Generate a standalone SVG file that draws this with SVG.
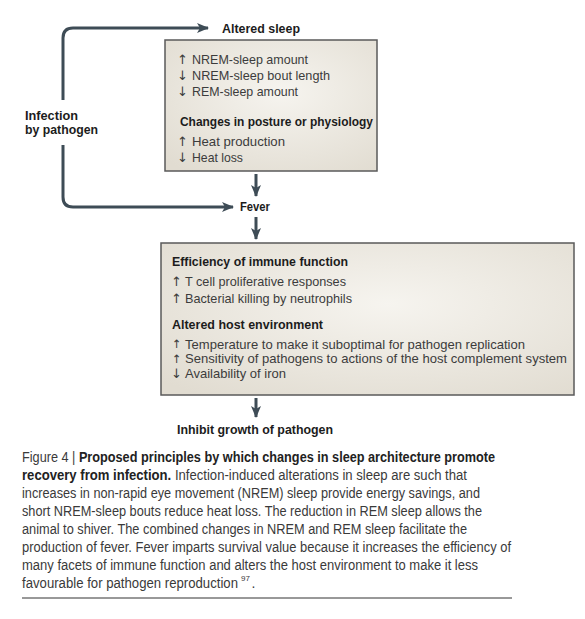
<svg xmlns="http://www.w3.org/2000/svg" width="585" height="619" viewBox="0 0 585 619">
<defs>
<radialGradient id="bg" cx="0.55" cy="0.4" r="0.75">
<stop offset="0" stop-color="#f6f4ef"/>
<stop offset="1" stop-color="#e1dcd1"/>
</radialGradient>
<marker id="ah" markerWidth="12" markerHeight="10" refX="11" refY="5" orient="auto" markerUnits="userSpaceOnUse">
<path d="M0,0 L12,5 L0,10 L3,5 Z" fill="#3e4c56"/>
</marker>
<style>
.box{fill:url(#bg);stroke:#5a5a5a;stroke-width:1.5}
.ln{fill:none;stroke:#3e4c56;stroke-width:3}
text{font-family:"Liberation Sans",Arial,sans-serif}
.t{font-size:13px;fill:#3c3c3c}
.b{font-size:13px;font-weight:bold;fill:#1c1c1c}
.ar{font-family:"DejaVu Sans",sans-serif;font-size:13px;fill:#3c3c3c}
.ars{font-family:"DejaVu Sans",sans-serif;font-size:11.5px;fill:#3c3c3c}
.c{font-size:14px;fill:#3a3a3a}
.cs{font-size:8px;fill:#3a3a3a}
.cb{font-weight:bold;fill:#222}
</style>
</defs>
<rect width="585" height="619" fill="#fff"/>
<g id="connectors">
<path class="ln" d="M63,100 V38 Q63,28 73,28 H208" marker-end="url(#ah)"/>
<path class="ln" d="M63,145 V197 Q63,207 73,207 H233" marker-end="url(#ah)"/>
<path class="ln" d="M256,174 V196" marker-end="url(#ah)"/>
<path class="ln" d="M256,217 V239" marker-end="url(#ah)"/>
<path class="ln" d="M256,398 V417" marker-end="url(#ah)"/>
</g>
<g id="infection">
<text class="b" x="25" y="120" textLength="53" lengthAdjust="spacingAndGlyphs">Infection</text>
<text class="b" x="25" y="134" textLength="73" lengthAdjust="spacingAndGlyphs">by pathogen</text>
</g>
<g id="altered-sleep">
<text class="b" x="222" y="33" textLength="78" lengthAdjust="spacingAndGlyphs">Altered sleep</text>
<rect class="box" x="165" y="40" width="212" height="131"/>
<text class="ar" x="177" y="64">↑</text>
<text class="t" x="192" y="64" textLength="116" lengthAdjust="spacingAndGlyphs">NREM-sleep amount</text>
<text class="ar" x="177" y="80">↓</text>
<text class="t" x="192" y="80" textLength="138" lengthAdjust="spacingAndGlyphs">NREM-sleep bout length</text>
<text class="ar" x="177" y="96">↓</text>
<text class="t" x="192" y="96" textLength="106" lengthAdjust="spacingAndGlyphs">REM-sleep amount</text>
<text class="b" x="180" y="126" textLength="193" lengthAdjust="spacingAndGlyphs">Changes in posture or physiology</text>
<text class="ar" x="177" y="146">↑</text>
<text class="t" x="192" y="146" textLength="93" lengthAdjust="spacingAndGlyphs">Heat production</text>
<text class="ar" x="177" y="162">↓</text>
<text class="t" x="192" y="162" textLength="51" lengthAdjust="spacingAndGlyphs">Heat loss</text>
</g>
<g id="fever">
<text class="b" x="240" y="211" textLength="30" lengthAdjust="spacingAndGlyphs">Fever</text>
</g>
<g id="effects">
<rect class="box" x="161" y="243" width="413" height="152"/>
<text class="b" x="172" y="266" textLength="176" lengthAdjust="spacingAndGlyphs">Efficiency of immune function</text>
<text class="ar" x="171" y="286">↑</text>
<text class="t" x="185" y="286" textLength="161" lengthAdjust="spacingAndGlyphs">T cell proliferative responses</text>
<text class="ar" x="171" y="303">↑</text>
<text class="t" x="185" y="303" textLength="167" lengthAdjust="spacingAndGlyphs">Bacterial killing by neutrophils</text>
<text class="b" x="172" y="329" textLength="151" lengthAdjust="spacingAndGlyphs">Altered host environment</text>
<text class="ars" x="172" y="348">↑</text>
<text class="t" x="185" y="349" textLength="340" lengthAdjust="spacingAndGlyphs">Temperature to make it suboptimal for pathogen replication</text>
<text class="ars" x="172" y="363">↑</text>
<text class="t" x="185" y="363" textLength="382" lengthAdjust="spacingAndGlyphs">Sensitivity of pathogens to actions of the host complement system</text>
<text class="ar" x="171" y="378">↓</text>
<text class="t" x="185" y="378" textLength="101" lengthAdjust="spacingAndGlyphs">Availability of iron</text>
</g>
<g id="inhibit">
<text class="b" x="177" y="434" textLength="156" lengthAdjust="spacingAndGlyphs">Inhibit growth of pathogen</text>
</g>
<g id="caption">
<text class="c" x="22" y="462" textLength="473" lengthAdjust="spacingAndGlyphs">Figure 4 | <tspan class="cb">Proposed principles by which changes in sleep architecture promote</tspan></text>
<text class="c" x="22" y="480" textLength="445" lengthAdjust="spacingAndGlyphs"><tspan class="cb">recovery from infection.</tspan> Infection-induced alterations in sleep are such that</text>
<text class="c" x="22" y="498" textLength="458" lengthAdjust="spacingAndGlyphs">increases in non-rapid eye movement (NREM) sleep provide energy savings, and</text>
<text class="c" x="22" y="516" textLength="460" lengthAdjust="spacingAndGlyphs">short NREM-sleep bouts reduce heat loss. The reduction in REM sleep allows the</text>
<text class="c" x="22" y="534" textLength="445" lengthAdjust="spacingAndGlyphs">animal to shiver. The combined changes in NREM and REM sleep facilitate the</text>
<text class="c" x="22" y="552" textLength="489" lengthAdjust="spacingAndGlyphs">production of fever. Fever imparts survival value because it increases the efficiency of</text>
<text class="c" x="22" y="570" textLength="456" lengthAdjust="spacingAndGlyphs">many facets of immune function and alters the host environment to make it less</text>
<text class="c" x="22" y="588" textLength="216" lengthAdjust="spacingAndGlyphs">favourable for pathogen reproduction</text>
<text class="cs" x="241" y="581">97</text>
<text class="c" x="251.5" y="588">.</text>
<line x1="22" y1="598" x2="512" y2="598" stroke="#333" stroke-width="1"/>
</g>
</svg>
